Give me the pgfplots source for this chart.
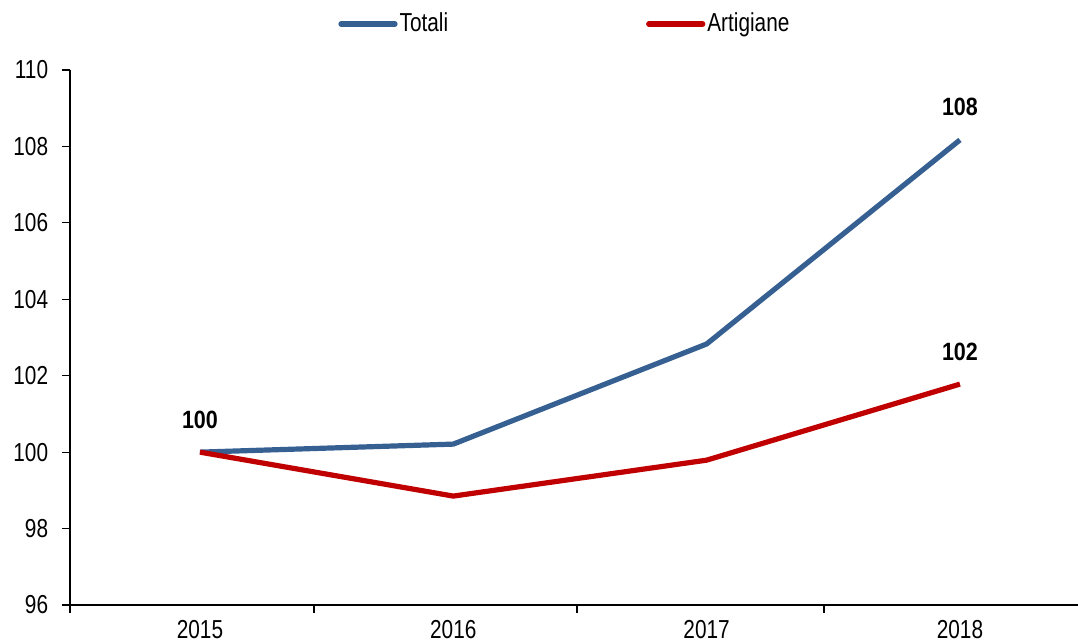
\documentclass[border=0pt]{standalone}
\usepackage{pgfplots}
\pgfplotsset{compat=1.18}
\usepackage{fontspec}
\setmainfont{Liberation Sans}[FakeStretch=0.8, BoldFeatures={FakeStretch=0.86}]
\definecolor{cblue}{RGB}{54,96,146}
\definecolor{cred}{RGB}{192,0,0}
\begin{document}
\begin{tikzpicture}
\begin{axis}[
  name=ax,
  scale only axis, width=504pt, height=267.5pt,
  xmin=-0.513, xmax=3.466, ymin=96, ymax=110,
  ytick={96,98,...,110},
  xtick={-0.513,0.45,1.488,2.463}, xticklabels={},
  extra x ticks={0,1,2,3},
  extra x tick labels={2015,2016,2017,2018},
  extra x tick style={major tick length=0pt},
  axis x line*=bottom, axis y line*=left,
  tick align=outside,
  major tick length=4pt,
  tick style={black, line width=0.6pt},
  axis line style={black, line width=0.6pt},
  /pgf/number format/assume math mode=true,
  tick label style={font=\fontsize{13}{15}\selectfont},
  yticklabel style={xshift=-3.4pt},
  xticklabel style={yshift=-4pt},
  legend style={at={(0.491,1)}, anchor=center, yshift=23pt, draw=none, fill=none,
    font=\fontsize{13}{15}\selectfont, inner xsep=0pt, nodes={inner xsep=1pt},
    /tikz/every even column/.append style={column sep=98pt}},
  legend columns=2,
  legend image code/.code={\draw[#1,line cap=round] (0pt,0pt) -- (27pt,0pt);},
  nodes near coords,
  point meta=explicit symbolic,
  every node near coord/.append style={font=\bfseries\fontsize{12.5}{14}\selectfont, anchor=base, yshift=12pt, black},
]
\addplot[cblue, line width=2.6pt, line join=round] coordinates {
  (0,100) [100]
  (1,100.21) []
  (2,102.83) []
  (3,108.17) [108]
};
\addlegendentry{Totali}
\addplot[cred, line width=2.6pt, line join=round] coordinates {
  (0,100) []
  (1,98.85) []
  (2,99.79) []
  (3,101.78) [102]
};
\addlegendentry{Artigiane}
\end{axis}
\pgfresetboundingbox
\path ([xshift=-35pt,yshift=-19pt]ax.south west) rectangle ([yshift=35pt]ax.north east);
\end{tikzpicture}
\end{document}
